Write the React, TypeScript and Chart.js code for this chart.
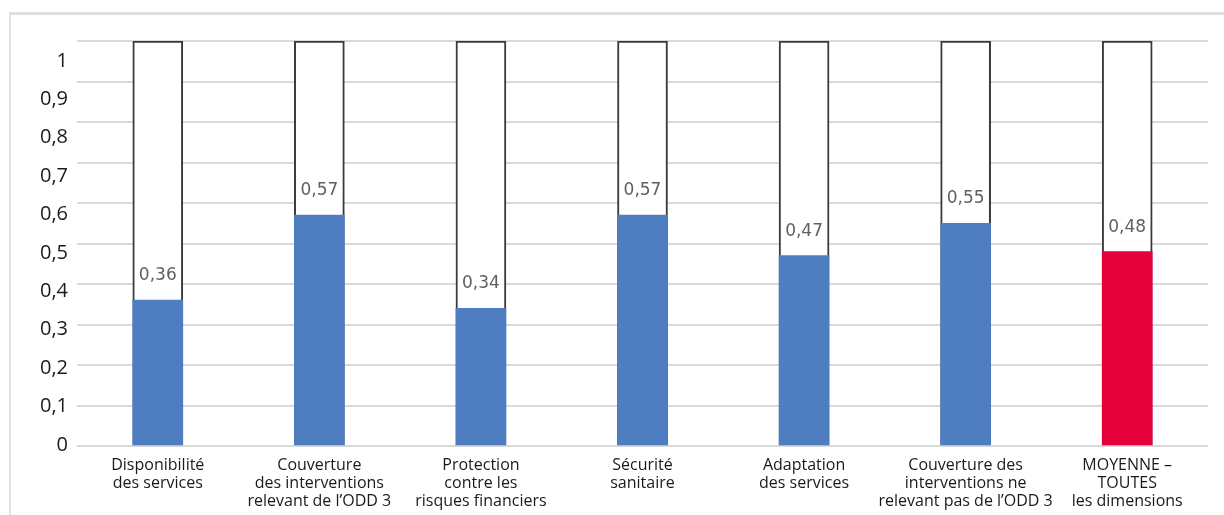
import React, { useEffect, useRef } from "react";
import { Chart, registerables } from "chart.js";

Chart.register(...registerables);

const categories: string[][] = [
  ["Disponibilité", "des services"],
  ["Couverture", "des interventions", "relevant de l’ODD 3"],
  ["Protection", "contre les", "risques financiers"],
  ["Sécurité", "sanitaire"],
  ["Adaptation", "des services"],
  ["Couverture des", "interventions ne", "relevant pas de l’ODD 3"],
  ["MOYENNE –", "TOUTES", "les dimensions"],
];
const scores: number[] = [0.36, 0.57, 0.34, 0.57, 0.47, 0.55, 0.48];
const maxScore: number[] = [1, 1, 1, 1, 1, 1, 1];
const barColors: string[] = ["#4f7dc1", "#4f7dc1", "#4f7dc1", "#4f7dc1", "#4f7dc1", "#4f7dc1", "#e4003a"];

const fmt = (v: number) => String(Math.round(v * 100) / 100).replace(".", ",");

const valueLabels = {
  id: "valueLabels",
  afterDatasetsDraw(chart: any) {
    const meta = chart.getDatasetMeta(0);
    const ctx = chart.ctx;
    ctx.save();
    ctx.font = '17px "DejaVu Sans"';
    ctx.fillStyle = "#606060";
    ctx.textAlign = "center";
    ctx.textBaseline = "bottom";
    meta.data.forEach((bar: any, i: number) => {
      ctx.fillText(fmt(scores[i]), bar.x, bar.y - 16);
    });
    ctx.restore();
  },
};

export default function App() {
  const ref = useRef<HTMLCanvasElement>(null);
  useEffect(() => {
    if (!ref.current) return;
    const chart = new Chart(ref.current, {
      type: "bar",
      data: {
        labels: categories,
        datasets: [
          {
            data: scores,
            backgroundColor: barColors,
            borderWidth: 0,
            barThickness: 50,
            order: 1,
          },
          {
            data: maxScore,
            backgroundColor: "#ffffff",
            borderColor: "#3a3a3a",
            borderWidth: 2,
            borderSkipped: false,
            barThickness: 50,
            order: 2,
          },
        ],
      },
      options: {
        animation: false,
        responsive: false,
        layout: { padding: { top: 33, right: 16, left: 0, bottom: 0 } },
        plugins: { legend: { display: false }, tooltip: { enabled: false } },
        scales: {
          x: {
            stacked: true,
            grid: { display: false, drawTicks: false },
            border: { display: false },
            ticks: {
              padding: 11,
              color: "#1a1a1a",
              font: { family: '"Open Sans"', size: 16, lineHeight: 1.1 },
              autoSkip: false,
              maxRotation: 0,
            },
            afterFit: (s: any) => {
              s.height = 69;
            },
          },
          y: {
            position: "left",
            min: 0,
            max: 1,
            ticks: { display: false, stepSize: 0.1 },
            grid: { color: "#d9d9d9", lineWidth: 2, drawTicks: false },
            border: { display: false },
            afterFit: (s: any) => {
              s.width = 0;
            },
          },
          y2: {
            position: "left",
            min: -0.0026,
            max: 1.052,
            grid: { display: false, drawTicks: false },
            border: { display: false },
            ticks: {
              stepSize: 0.1,
              includeBounds: false,
              padding: 9,
              color: "#1a1a1a",
              font: { family: '"Open Sans"', size: 20 },
              callback: (v: any) => fmt(Number(v)),
            },
            afterFit: (s: any) => {
              s.width = 69;
            },
          },
        },
      },
      plugins: [valueLabels],
    });
    return () => chart.destroy();
  }, []);

  return (
    <div style={{ position: "fixed", top: 8, left: 8, width: 1216, height: 507 }}>
      <canvas ref={ref} width={1216} height={507} style={{ display: "block", width: 1216, height: 507 }} />
      <div
        style={{
          position: "absolute",
          top: 4,
          left: 1,
          right: 0,
          bottom: 0,
          borderTop: "3px solid #dedede",
          borderLeft: "2px solid #e2e2e2",
          pointerEvents: "none",
        }}
      />
    </div>
  );
}
